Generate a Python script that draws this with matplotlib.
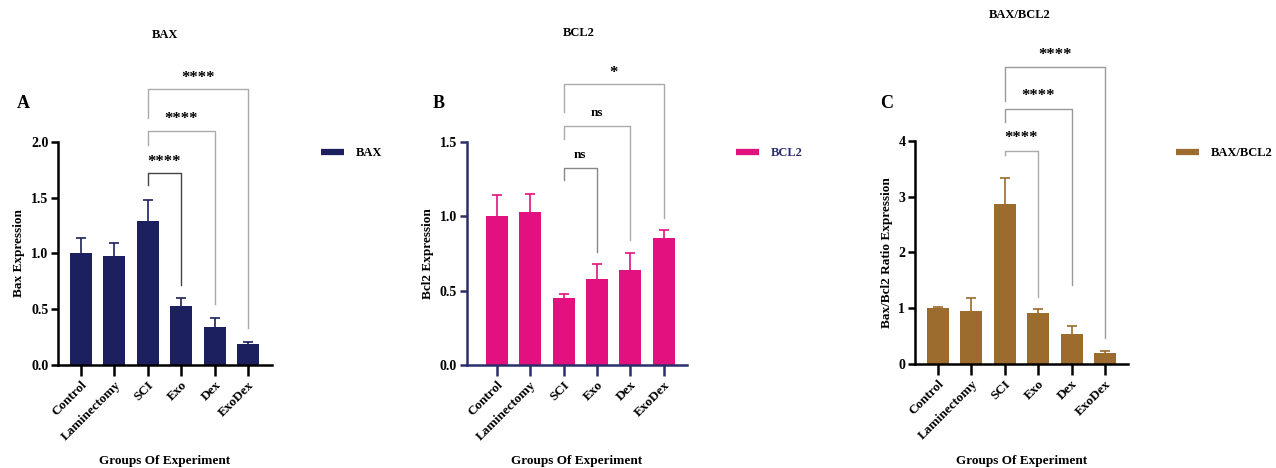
import matplotlib.pyplot as plt
from matplotlib.lines import Line2D

plt.rcParams['font.family'] = ['Liberation Serif', 'DejaVu Serif']
plt.rcParams['font.weight'] = 'bold'

groups = ["Control", "Laminectomy", "SCI", "Exo", "Dex", "ExoDex"]

bax_mean = [1.00, 0.98, 1.29, 0.53, 0.34, 0.19]
bax_err = [0.14, 0.11, 0.19, 0.07, 0.08, 0.02]

bcl2_mean = [1.00, 1.03, 0.45, 0.58, 0.64, 0.85]
bcl2_err = [0.14, 0.12, 0.03, 0.10, 0.11, 0.06]

ratio_mean = [1.00, 0.96, 2.86, 0.91, 0.54, 0.21]
ratio_err = [0.02, 0.22, 0.47, 0.07, 0.15, 0.03]

# comparisons: (from, to, bracket top, left leg end, right leg end, text y, label)
bax_sig = [(2, 3, 1.72, 1.61, 0.72, 1.82, "****"),
           (2, 4, 2.10, 1.97, 0.55, 2.20, "****"),
           (2, 5, 2.47, 2.21, 0.33, 2.57, "****")]
bcl2_sig = [(2, 3, 1.325, 1.24, 0.76, 1.41, "ns"),
            (2, 4, 1.605, 1.52, 0.84, 1.69, "ns"),
            (2, 5, 1.885, 1.70, 0.99, 1.96, "*")]
ratio_sig = [(2, 3, 3.82, 3.74, 1.21, 4.05, "****"),
             (2, 4, 4.56, 4.34, 1.42, 4.79, "****"),
             (2, 5, 5.31, 4.70, 0.47, 5.53, "****")]

fig = plt.figure(figsize=(12.76, 4.68), dpi=100)

panels = [
    dict(mean=bax_mean, err=bax_err, sig=bax_sig, color="#1d205e", spine="black",
         rect=[0.0455, 0.2201, 0.1677, 0.4771], xlim=(-0.69, 5.72), ylim=(0, 2.0),
         yticks=[0.0, 0.5, 1.0, 1.5, 2.0], fmt="{:.1f}", ylabel="Bax Expression",
         title="BAX", letter="A", leg="BAX", legcol="black",
         bcol=["#444444", "#aaaaaa", "#aaaaaa"]),
    dict(mean=bcl2_mean, err=bcl2_err, sig=bcl2_sig, color="#e2117f", spine="#2c2e6a",
         rect=[0.3657, 0.2201, 0.1724, 0.4771], xlim=(-0.9, 5.68), ylim=(0, 1.5),
         yticks=[0.0, 0.5, 1.0, 1.5], fmt="{:.1f}", ylabel="Bcl2 Expression",
         title="BCL2", letter="B", leg="BCL2", legcol="#2c2e6a",
         bcol=["#888888", "#aaaaaa", "#aaaaaa"]),
    dict(mean=ratio_mean, err=ratio_err, sig=ratio_sig, color="#9c6b2e", spine="black",
         rect=[0.7171, 0.2216, 0.1669, 0.4780], xlim=(-0.69, 5.69), ylim=(0, 4),
         yticks=[0, 1, 2, 3, 4], fmt="{:.0f}", ylabel="Bax/Bcl2 Ratio Expression",
         title="BAX/BCL2", letter="C", leg="BAX/BCL2", legcol="black",
         bcol=["#aaaaaa", "#999999", "#999999"]),
]

title_x = [165, 579, 1020]
title_y = [35, 33, 15]
letter_x = [23, 439, 887]
leg_x = [320, 735, 1175]

for i, p in enumerate(panels):
    ax = fig.add_axes(p["rect"])
    x = range(len(groups))
    ax.bar(x, p["mean"], width=0.66, color=p["color"], zorder=2)
    eb = ax.errorbar(x, p["mean"], yerr=[[0] * len(groups), p["err"]], fmt="none",
                     ecolor=p["color"], elinewidth=1.2, capsize=3.5, capthick=1.2,
                     zorder=1)
    eb[1][0].set_visible(False)  # hide lower caps
    ax.set_xlim(*p["xlim"])
    ax.set_ylim(*p["ylim"])
    ax.set_yticks(p["yticks"])
    ax.set_yticklabels([p["fmt"].format(v) for v in p["yticks"]])
    ax.set_xticks(list(x))
    ax.set_xticklabels(groups, rotation=45, ha="right", rotation_mode="anchor")
    for s in ["top", "right"]:
        ax.spines[s].set_visible(False)
    for s in ["left", "bottom"]:
        ax.spines[s].set_linewidth(1.8)
        ax.spines[s].set_color(p["spine"])
    ax.tick_params(axis="x", length=8, width=1.8, color=p["spine"], labelsize=9.5, pad=2)
    ax.tick_params(axis="y", length=5, width=1.8, color=p["spine"], labelsize=10, pad=2)
    ax.set_ylabel(p["ylabel"], fontsize=9.5, fontweight="bold", labelpad=4)
    ax.set_xlabel("Groups Of Experiment", fontsize=9.5, fontweight="bold")
    ax.xaxis.set_label_coords(0.5, -0.432)
    ax.xaxis.label.set_va("center")

    for (a, b, top, lleg, rleg, ty, lab), c in zip(p["sig"], p["bcol"]):
        ax.plot([a, a, b, b], [lleg, top, top, rleg], color=c, lw=1.0,
                clip_on=False, zorder=3)
        ax.text((a + b) / 2, ty, lab, ha="center", va="center",
                fontsize=9.5 if lab == "ns" else 12,
                fontweight="bold", clip_on=False)

    fig.text(title_x[i] / 1276, 1 - title_y[i] / 468, p["title"], ha="center",
             va="center", fontsize=9, fontweight="bold")
    fig.text(letter_x[i] / 1276, 1 - 103 / 468, p["letter"], ha="center",
             va="center", fontsize=13, fontweight="bold")

    handle = Line2D([0], [0], color=p["color"], lw=4.5, solid_capstyle="butt")
    fig.legend([handle], [p["leg"]], loc="center left",
               bbox_to_anchor=(leg_x[i] / 1276 - 0.008, 1 - 153 / 468),
               frameon=False, handlelength=1.8, handletextpad=1.0,
               prop={"size": 9, "weight": "bold"}, labelcolor=p["legcol"])

fig.savefig("out.png", dpi=100)
